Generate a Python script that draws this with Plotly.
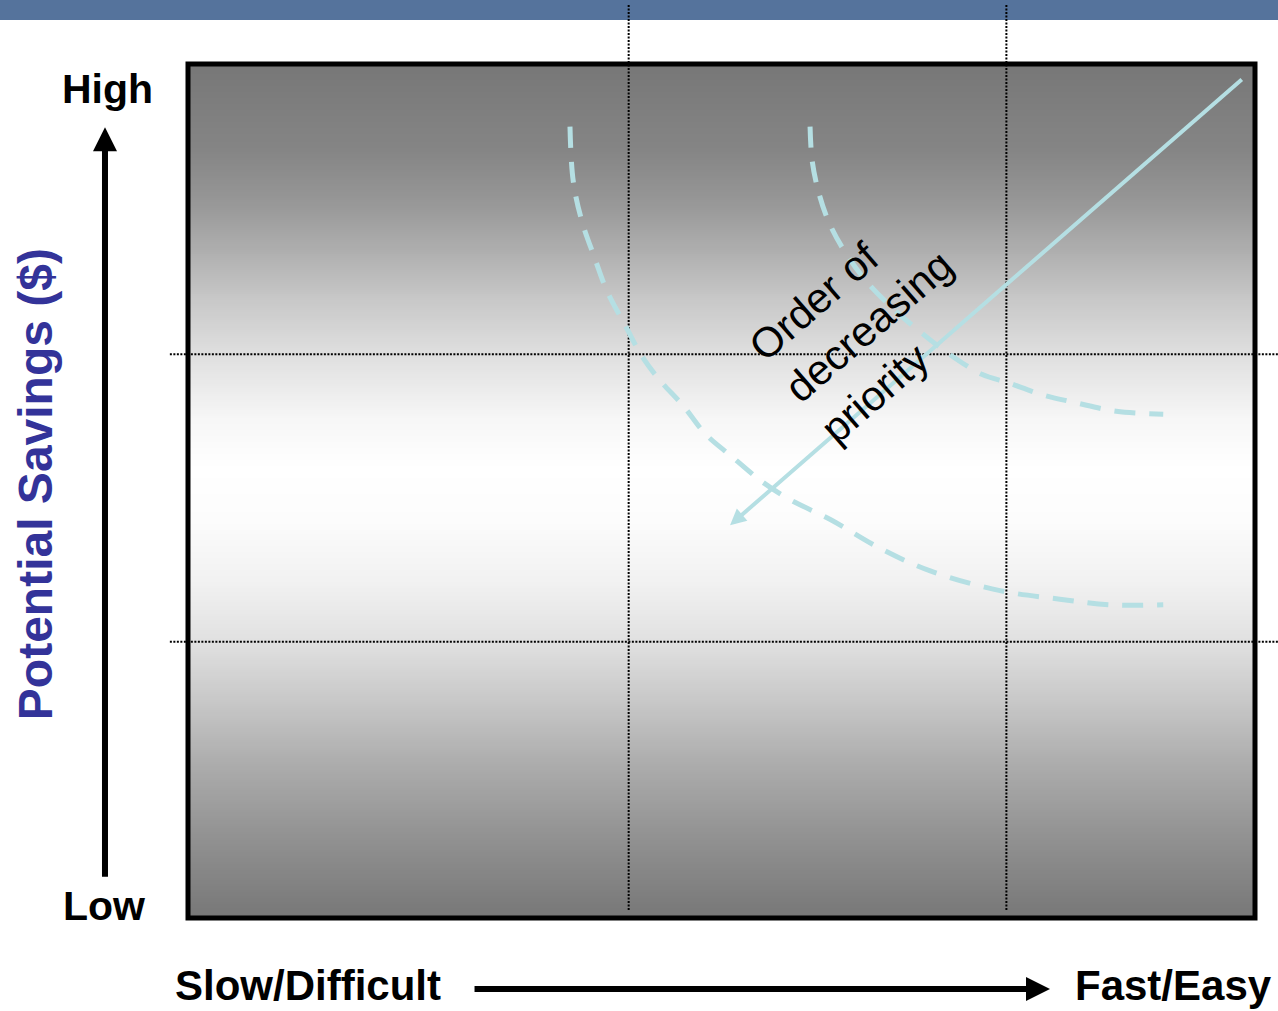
import numpy as np
import plotly.graph_objects as go

# ---- matrix extents: ease of implementation (x) vs. potential savings (y)
X_RANGE = [0, 10]
Y_RANGE = [0, 3]

# quadrant dividers
x_dividers = [4.13, 7.67]
y_dividers = [0.97, 1.98]

# dashed iso-priority contours
outer_band_x = [3.58, 3.61, 3.69, 3.81, 3.93, 4.10, 4.26, 4.42, 4.64, 4.85,
                5.10, 5.39, 5.64, 6.02, 6.48, 6.95, 7.61, 8.17, 8.64, 9.14]
outer_band_y = [2.78, 2.59, 2.45, 2.32, 2.20, 2.08, 1.97, 1.89, 1.80, 1.70,
                1.62, 1.53, 1.47, 1.40, 1.30, 1.22, 1.15, 1.12, 1.10, 1.10]
inner_band_x = [5.83, 5.85, 5.91, 6.00, 6.14, 6.35, 6.61, 6.86, 7.10, 7.44,
                7.69, 7.99, 8.32, 8.70, 9.14]
inner_band_y = [2.78, 2.66, 2.55, 2.45, 2.35, 2.24, 2.14, 2.06, 1.99, 1.91,
                1.88, 1.84, 1.81, 1.78, 1.77]

# direction of decreasing priority (tail -> head)
priority_tail = (9.89, 2.95)
priority_head = (5.08, 1.38)
priority_label = "Order of<br>decreasing<br>priority"
priority_label_pos = (6.38, 2.08)

# axis captions
y_caption = "Potential Savings ($)"
y_high, y_low = "High", "Low"
x_low, x_high = "Slow/Difficult", "Fast/Easy"

# ---- styling
FONT = "Liberation Sans, Arial, Helvetica, sans-serif"
CONTOUR = "#b5dfe3"
W, H = 1278, 1011
M = dict(l=188, r=23, t=64, b=93)

# vertical shading of the matrix: (fraction from top, grey level)
shade_stops = [(0.000, 119), (0.101, 133), (0.159, 150), (0.218, 174),
               (0.276, 200), (0.340, 223), (0.417, 247), (0.475, 255),
               (0.534, 252), (0.604, 242), (0.678, 224), (0.745, 200),
               (0.815, 174), (0.897, 148), (1.000, 119)]

fig = go.Figure()

for bx, by in ((outer_band_x, outer_band_y), (inner_band_x, inner_band_y)):
    fig.add_trace(go.Scatter(
        x=bx, y=by, mode="lines", line_shape="spline",
        line=dict(color=CONTOUR, width=5, dash="21px,14px"),
        hoverinfo="skip", showlegend=False))

shapes = []

# banner strip across the top of the page
shapes.append(dict(type="rect", xref="paper", yref="paper",
                   x0=-0.19, x1=1.04, y0=1.0515, y1=1.09,
                   fillcolor="#55739c", line_width=0, layer="below"))

# shaded background in thin horizontal bands
fr = [s[0] for s in shade_stops]
gv = [s[1] for s in shade_stops]
step = 2.0 / (H - M["t"] - M["b"])
edges = np.arange(0.0, 1.0 + step, step)
for a, b in zip(edges[:-1], edges[1:]):
    g = int(round(np.interp((a + b) / 2, fr, gv)))
    shapes.append(dict(type="rect", xref="paper", yref="paper",
                       x0=0, x1=1, y0=1 - min(b + step * 0.3, 1), y1=1 - a,
                       fillcolor=f"rgb({g},{g},{g})", line_width=0,
                       layer="below"))

# dotted quadrant dividers (extend past the frame)
DOTS = dict(color="black", width=2, dash="2px,1.5px")
for xd in x_dividers:
    shapes.append(dict(type="line", xref="x", yref="paper",
                       x0=xd, x1=xd, y0=0.0094, y1=1.069,
                       line=DOTS, layer="below"))
for yd in y_dividers:
    shapes.append(dict(type="line", xref="paper", yref="y",
                       x0=-0.017, x1=1.03, y0=yd, y1=yd,
                       line=DOTS, layer="below"))

# frame
shapes.append(dict(type="rect", xref="paper", yref="paper",
                   x0=0, x1=1, y0=0, y1=1,
                   line=dict(color="black", width=5), fillcolor="rgba(0,0,0,0)",
                   layer="above"))

annotations = []

# priority arrow
annotations.append(dict(
    x=priority_head[0], y=priority_head[1], xref="x", yref="y",
    ax=priority_tail[0], ay=priority_tail[1], axref="x", ayref="y",
    text="", showarrow=True, arrowhead=2, arrowsize=0.8, arrowwidth=4,
    arrowcolor=CONTOUR, standoff=0))
annotations.append(dict(
    x=priority_label_pos[0], y=priority_label_pos[1], xref="x", yref="y",
    text=priority_label, showarrow=False, textangle=-41, align="left",
    xanchor="center", yanchor="middle",
    font=dict(family=FONT, size=42, color="black")))

# vertical axis arrow and captions
annotations.append(dict(
    x=-0.0778, y=0.926, xref="paper", yref="paper", ax=0, ay=751,
    text="", showarrow=True, arrowhead=2, arrowsize=0.8, arrowwidth=6,
    arrowcolor="black", standoff=0))
annotations.append(dict(
    x=-0.075, y=0.9707, xref="paper", yref="paper", text=f"<b>{y_high}</b>",
    showarrow=False, xanchor="center", yanchor="middle",
    font=dict(family=FONT, size=41, color="black")))
annotations.append(dict(
    x=-0.0787, y=0.014, xref="paper", yref="paper", text=f"<b>{y_low}</b>",
    showarrow=False, xanchor="center", yanchor="middle",
    font=dict(family=FONT, size=41, color="black")))
annotations.append(dict(
    x=-0.1434, y=0.508, xref="paper", yref="paper", text=f"<b>{y_caption}</b>",
    showarrow=False, textangle=-90, xanchor="center", yanchor="middle",
    font=dict(family=FONT, size=48, color="#333399")))

# horizontal axis arrow and captions
annotations.append(dict(
    x=0.8079, y=-0.0831, xref="paper", yref="paper", ax=-577, ay=0,
    text="", showarrow=True, arrowhead=2, arrowsize=0.8, arrowwidth=6,
    arrowcolor="black", standoff=0))
annotations.append(dict(
    x=0.1125, y=-0.0785, xref="paper", yref="paper", text=f"<b>{x_low}</b>",
    showarrow=False, xanchor="center", yanchor="middle",
    font=dict(family=FONT, size=42, color="black")))
annotations.append(dict(
    x=0.924, y=-0.0796, xref="paper", yref="paper", text=f"<b>{x_high}</b>",
    showarrow=False, xanchor="center", yanchor="middle",
    font=dict(family=FONT, size=42, color="black")))

fig.update_layout(
    width=W, height=H, margin=M,
    paper_bgcolor="white", plot_bgcolor="white",
    font=dict(family=FONT),
    xaxis=dict(range=X_RANGE, visible=False, fixedrange=True),
    yaxis=dict(range=Y_RANGE, visible=False, fixedrange=True),
    shapes=shapes, annotations=annotations, showlegend=False,
)

fig.write_html("out.html", config={"displayModeBar": False})
